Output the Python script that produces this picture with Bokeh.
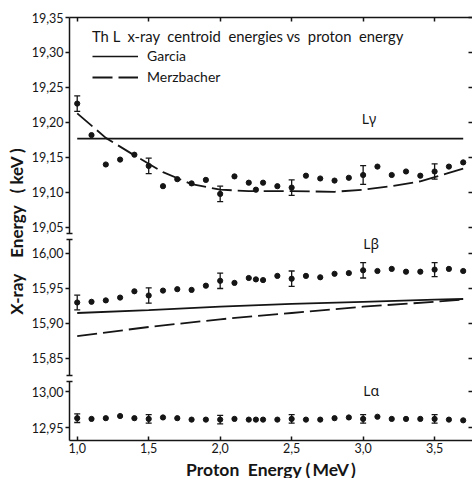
import numpy as np
from bokeh.plotting import figure
from bokeh.layouts import row, column
from bokeh.models import (Range1d, FixedTicker, LinearAxis, CustomJSTickFormatter,
                          Whisker, TeeHead, ColumnDataSource, Legend, LegendItem, Label)
from bokeh.embed import file_html
from bokeh.resources import INLINE

# Proton energies (MeV) at which centroids were measured
energy = [1.0, 1.1, 1.2, 1.3, 1.4, 1.5, 1.6, 1.7, 1.8, 1.9, 2.0, 2.1, 2.2, 2.25,
          2.3, 2.4, 2.5, 2.6, 2.7, 2.8, 2.9, 3.0, 3.1, 3.2, 3.3, 3.4, 3.5, 3.6, 3.7]

# Measured centroid energies (keV)
l_gamma = [19.227, 19.182, 19.140, 19.147, 19.154, 19.138, 19.109, 19.119, 19.113,
           19.118, 19.098, 19.123, 19.114, 19.104, 19.114, 19.109, 19.107, 19.124,
           19.120, 19.117, 19.121, 19.125, 19.137, 19.125, 19.130, 19.124, 19.130,
           19.137, 19.143]
l_beta = [15.930, 15.931, 15.933, 15.937, 15.946, 15.940, 15.947, 15.949, 15.948,
          15.954, 15.961, 15.958, 15.965, 15.963, 15.962, 15.968, 15.964, 15.968,
          15.966, 15.971, 15.972, 15.976, 15.975, 15.978, 15.974, 15.974, 15.977,
          15.978, 15.975]
l_alpha = [12.963, 12.962, 12.963, 12.966, 12.963, 12.962, 12.964, 12.963, 12.961,
           12.961, 12.961, 12.962, 12.961, 12.961, 12.961, 12.961, 12.962, 12.961,
           12.961, 12.963, 12.964, 12.962, 12.965, 12.962, 12.962, 12.962, 12.962,
           12.961, 12.960]

# Energies carrying error bars and the half-widths (keV)
err_energy = [1.0, 1.5, 2.0, 2.5, 3.0, 3.5]
l_gamma_err = [0.011, 0.011, 0.011, 0.011, 0.0135, 0.011]
l_beta_err = [0.0105, 0.011, 0.011, 0.011, 0.011, 0.010]
l_alpha_err = [0.006, 0.006, 0.006, 0.006, 0.006, 0.006]

# Theoretical predictions
garcia_g_e = [1.0, 3.7]
garcia_g = [19.177, 19.177]
merz_g_e = [1.0, 1.2, 1.4, 1.6, 1.8, 2.0, 2.2, 2.5, 2.8, 3.0, 3.2, 3.4, 3.5, 3.6, 3.7]
merz_g = [19.213, 19.178, 19.153, 19.129, 19.112, 19.104, 19.102, 19.102, 19.101,
          19.104, 19.109, 19.116, 19.122, 19.128, 19.134]
garcia_b_e = [1.0, 1.5, 2.0, 2.5, 3.0, 3.5, 3.7]
garcia_b = [15.915, 15.919, 15.924, 15.928, 15.931, 15.934, 15.935]
merz_b_e = [1.0, 1.5, 2.0, 2.5, 3.0, 3.5, 3.7]
merz_b = [15.882, 15.895, 15.906, 15.915, 15.924, 15.931, 15.934]

# Axis ticks
x_ticks = [1.0, 1.5, 2.0, 2.5, 3.0, 3.5]
gamma_ticks = [19.05, 19.10, 19.15, 19.20, 19.25, 19.30, 19.35]
beta_ticks = [15.85, 15.90, 15.95, 16.00]
alpha_ticks = [12.95, 13.00]

FONT = "Lato"
GREEK_FONT = "Noto Sans"
INK = "#151515"
DASH = "20 6"
NB = "\u00a0"
THIN = "\u2009"

x_range = Range1d(0.946, 3.765)

fmt_y = CustomJSTickFormatter(code="return tick.toFixed(2).replace('.', ',')")
fmt_x = CustomJSTickFormatter(code="return tick.toFixed(1).replace('.', ',')")
fmt_blank = CustomJSTickFormatter(code="return ''")


def panel(view, axis_span, frame_h, ticks, breaks, top, bottom, x_loc):
    p = figure(frame_width=403, frame_height=frame_h, x_range=x_range,
               y_range=Range1d(*view), x_axis_location=x_loc,
               y_axis_location="left", toolbar_location=None, output_backend="svg",
               min_border_left=41, min_border_right=0, min_border_top=top,
               min_border_bottom=bottom, outline_line_color=None,
               background_fill_color="white", border_fill_color="white")
    p.grid.visible = False
    ax = p.yaxis[0]
    ax.bounds = axis_span
    ax.ticker = FixedTicker(ticks=ticks, minor_ticks=breaks)
    ax.formatter = fmt_y
    ax.axis_line_color = INK
    ax.axis_line_width = 1.5
    ax.major_tick_line_color = INK
    ax.major_tick_line_width = 1.5
    ax.major_tick_in = 0
    ax.major_tick_out = 4
    ax.minor_tick_line_color = INK
    ax.minor_tick_line_width = 1.5
    ax.minor_tick_in = 3
    ax.minor_tick_out = 3
    ax.major_label_standoff = 2
    ax.major_label_text_font = FONT
    ax.major_label_text_font_size = "12.5px"
    ax.major_label_text_color = INK

    rax = LinearAxis(ticker=FixedTicker(ticks=ticks), formatter=fmt_blank,
                     axis_line_color=None, major_tick_in=4, major_tick_out=0,
                     minor_tick_in=0, minor_tick_out=0, major_tick_line_color=INK,
                     major_tick_line_width=1.5, major_label_text_font_size="6px",
                     major_label_standoff=0)
    p.add_layout(rax, "right")
    return p


def series(p, ys, errs):
    p.scatter(energy, ys, size=5.2, color=INK)
    centers = [ys[energy.index(e)] for e in err_energy]
    src = ColumnDataSource(dict(
        x=err_energy,
        lower=[c - d for c, d in zip(centers, errs)],
        upper=[c + d for c, d in zip(centers, errs)]))
    p.add_layout(Whisker(source=src, base="x", lower="lower", upper="upper",
                         dimension="height", line_color=INK, line_width=1.3,
                         lower_head=TeeHead(size=6, line_color=INK, line_width=1.3),
                         upper_head=TeeHead(size=6, line_color=INK, line_width=1.3)))


def panel_label(p, text, x, y):
    p.add_layout(Label(x=x, y=y, text=text, text_font=GREEK_FONT,
                       text_font_size="14px", text_color=INK,
                       text_align="left", text_baseline="middle"))


# L-gamma panel (top)
g_view = (19.0414, 19.35)
top = panel(g_view, g_view, 216, gamma_ticks, [g_view[0] + 0.0005], 17, 2, "above")
tax = top.xaxis[0]
tax.ticker = FixedTicker(ticks=x_ticks)
tax.formatter = fmt_blank
tax.axis_line_color = INK
tax.axis_line_width = 1.5
tax.major_tick_line_color = INK
tax.major_tick_line_width = 1.5
tax.major_tick_in = 4
tax.major_tick_out = 0
tax.minor_tick_in = 0
tax.minor_tick_out = 0
tax.major_label_text_font_size = "6px"
tax.major_label_standoff = 0

r_garcia = top.line(garcia_g_e, garcia_g, line_color=INK, line_width=1.6)
r_merz = top.line(merz_g_e, merz_g, line_color=INK, line_width=1.8, line_dash=DASH)
series(top, l_gamma, l_gamma_err)
panel_label(top, "Lγ", 2.99, 19.206)

title = NB.join(["Th", "L", " x-ray", "", "centroid", "", "energies", "vs", "",
                 "proton", "", "energy"])
legend = Legend(items=[LegendItem(label="Garcia", renderers=[r_garcia]),
                       LegendItem(label="Merzbacher", renderers=[r_merz])],
                title=title,
                location=(23, 148), padding=0, margin=0, spacing=4,
                glyph_width=46, glyph_height=16, label_height=16,
                label_standoff=9, title_standoff=2,
                border_line_color=None, background_fill_alpha=0,
                label_text_font=FONT, label_text_font_size="14px",
                label_text_color=INK, title_text_font=FONT,
                title_text_font_size="14.8px", title_text_color=INK,
                title_text_font_style="normal")
top.add_layout(legend)

# L-beta panel (middle); the axis line stops short of the frame to show the break
b_view = (15.8214, 16.0257)
b_axis = (15.8257, 16.0200)
mid = panel(b_view, b_axis, 143, beta_ticks,
            [b_axis[0] + 0.0005, b_axis[1] - 0.0005], 0, 0, None)
mid.line(garcia_b_e, garcia_b, line_color=INK, line_width=1.8)
mid.line(merz_b_e, merz_b, line_color=INK, line_width=1.8, line_dash=DASH)
series(mid, l_beta, l_beta_err)
panel_label(mid, "Lβ", 3.0, 16.0140)

# L-alpha panel (bottom)
a_view = (12.932, 13.0181)
a_axis = (12.932, 13.0139)
bot = panel(a_view, a_axis, 62, alpha_ticks, [a_axis[1] - 0.0005], 0, 38, "below")
bax = bot.xaxis[0]
bax.ticker = FixedTicker(ticks=x_ticks)
bax.formatter = fmt_x
bax.axis_line_color = INK
bax.axis_line_width = 1.5
bax.major_tick_line_color = INK
bax.major_tick_line_width = 1.5
bax.major_tick_in = 4
bax.major_tick_out = 0
bax.minor_tick_in = 0
bax.minor_tick_out = 0
bax.major_label_standoff = 2
bax.major_label_text_font = FONT
bax.major_label_text_font_size = "12.5px"
bax.major_label_text_color = INK
bax.axis_label = "Proton" + NB + NB + "Energy" + NB + "(" + THIN + "MeV" + THIN + ")"
bax.axis_label_standoff = 3
bax.axis_label_text_font = FONT
bax.axis_label_text_font_size = "17.5px"
bax.axis_label_text_font_style = "bold"
bax.axis_label_text_color = INK
series(bot, l_alpha, l_alpha_err)
panel_label(bot, "Lα", 3.0, 13.0014)

# Strip carrying the shared y-axis title
side = figure(width=28, height=478, x_range=Range1d(0, 28), y_range=Range1d(0, 478),
              x_axis_location=None, y_axis_location=None, toolbar_location=None,
              output_backend="svg", min_border=0, outline_line_color=None)
side.grid.visible = False
y_title = "X-ray" + NB * 4 + "Energy" + NB * 3 + "(" + NB + "keV" + NB + ")"
side.add_layout(Label(x=16, y=247, text=y_title, angle=np.pi / 2,
                      text_align="center", text_baseline="middle", text_font=FONT,
                      text_font_size="17px", text_font_style="bold", text_color=INK))

layout = row(side, column(top, mid, bot, spacing=0), spacing=0)

open("out.html", "w").write(file_html(layout, INLINE))
